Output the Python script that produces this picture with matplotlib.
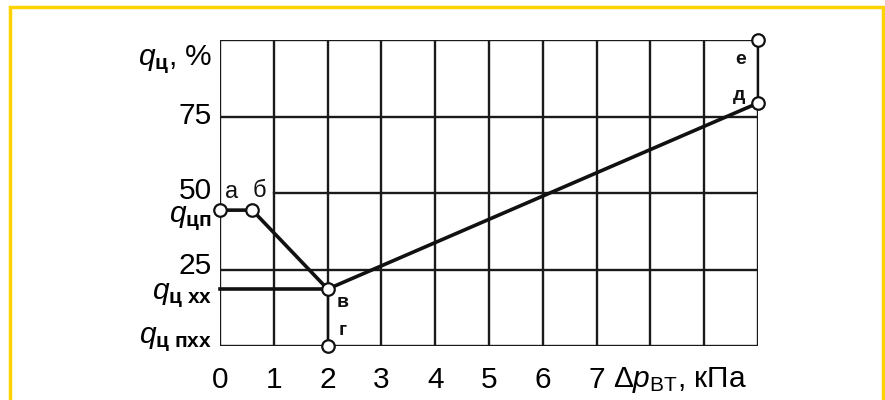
import matplotlib
matplotlib.use("Agg")
import matplotlib.pyplot as plt
from matplotlib.patches import Rectangle

plt.rcParams['font.family'] = ['Liberation Sans', 'DejaVu Sans']
plt.rcParams['mathtext.fontset'] = 'custom'
plt.rcParams['mathtext.rm'] = 'Liberation Sans'
plt.rcParams['mathtext.it'] = 'Liberation Sans:italic'
plt.rcParams['mathtext.bf'] = 'Liberation Sans:bold'

# характеристика: точки а-б-в-д
dp = [0, 0.6, 2, 10]
qc = [44.4, 44.4, 18.6, 79.4]
# холостой ход
xx_dp = [0, 2]
xx_q = [18.6, 18.6]
# отрезки в-г и д-е
vg_dp = [2, 2]
vg_q = [18.6, 0]
de_dp = [10, 10]
de_q = [79.4, 100]

point_dp = [0, 0.6, 2, 2, 10, 10]
point_q = [44.4, 44.4, 18.6, 0, 79.4, 100]
point_names = ['а', 'б', 'в', 'г', 'д', 'е']

x_ticks = [0, 1, 2, 3, 4, 5, 6, 7]
grid_x = list(range(11))

fig = plt.figure(figsize=(8.85, 4), dpi=100)
ax = fig.add_axes([220 / 885, 1 - 346 / 400, 538 / 885, 306 / 400])
ax.set_xlim(0, 10)
ax.set_ylim(0, 100)
ax.axis('off')

gw = 1.7
for x in grid_x:
    ax.plot([x, x], [0, 100], color='#1a1a1a', lw=gw, solid_capstyle='butt')
ax.plot([0, 10], [0, 0], color='#1a1a1a', lw=gw)
ax.plot([0, 10], [25, 25], color='#1a1a1a', lw=gw)
ax.plot([1, 10], [50, 50], color='#1a1a1a', lw=gw)
ax.plot([0, 10], [75, 75], color='#1a1a1a', lw=gw)
ax.plot([0, 10], [100, 100], color='#1a1a1a', lw=gw)

lw = 2.6
ax.plot(dp, qc, color='#111111', lw=lw, clip_on=False)
ax.plot(xx_dp, xx_q, color='#111111', lw=lw, clip_on=False)
ax.plot(vg_dp, vg_q, color='#111111', lw=gw, clip_on=False)
ax.plot(de_dp, de_q, color='#111111', lw=gw, clip_on=False)
ax.plot(point_dp, point_q, 'o', ms=9, mfc='white', mec='#111111', mew=1.6,
        ls='none', clip_on=False, zorder=5)

# буквенные обозначения точек
name_pos = {'а': (0.22, 50.2), 'б': (0.74, 50.8), 'в': (2.28, 14.3),
            'г': (2.28, 5.2), 'д': (9.65, 82), 'е': (9.68, 93.5)}
for nm in point_names:
    x, y = name_pos[nm]
    ax.text(x, y, nm, fontsize=17 if nm in 'аб' else 14,
            fontweight='normal' if nm in 'аб' else 'bold',
            ha='center', va='center', color='#111111')

# подписи оси ординат
fs = 21.5
lab_x = -0.15
ax.text(lab_x, 93.5, r'$q_{\mathbf{ц}}$, %', fontsize=fs, ha='right', va='center')
ax.text(lab_x, 75, '75', fontsize=fs, ha='right', va='center')
ax.text(lab_x, 50.5, '50', fontsize=fs, ha='right', va='center')
ax.text(lab_x, 41.5, r'$q_{\mathbf{цп}}$', fontsize=fs, ha='right', va='center')
ax.text(lab_x, 26, '25', fontsize=fs, ha='right', va='center')
ax.text(lab_x, 16.6, r'$q_{\mathbf{ц\ хх}}$', fontsize=fs, ha='right', va='center')
ax.text(lab_x, 2.2, r'$q_{\mathbf{ц\ пхх}}$', fontsize=fs, ha='right', va='center')

# подписи оси абсцисс
for x in x_ticks:
    ax.text(x, -11.2, str(x), fontsize=fs, ha='center', va='center')
ax.text(7.3, -11.2, r'$\Delta p_{\mathrm{ВТ}}$, кПа', fontsize=fs,
        ha='left', va='center')

fig.patches.append(Rectangle((10 / 885, -0.05), 873 / 885, 1.05 - 7 / 400,
                             transform=fig.transFigure, fill=False,
                             edgecolor='#FFD200', lw=2.5))

fig.savefig('out.png', dpi=100)
